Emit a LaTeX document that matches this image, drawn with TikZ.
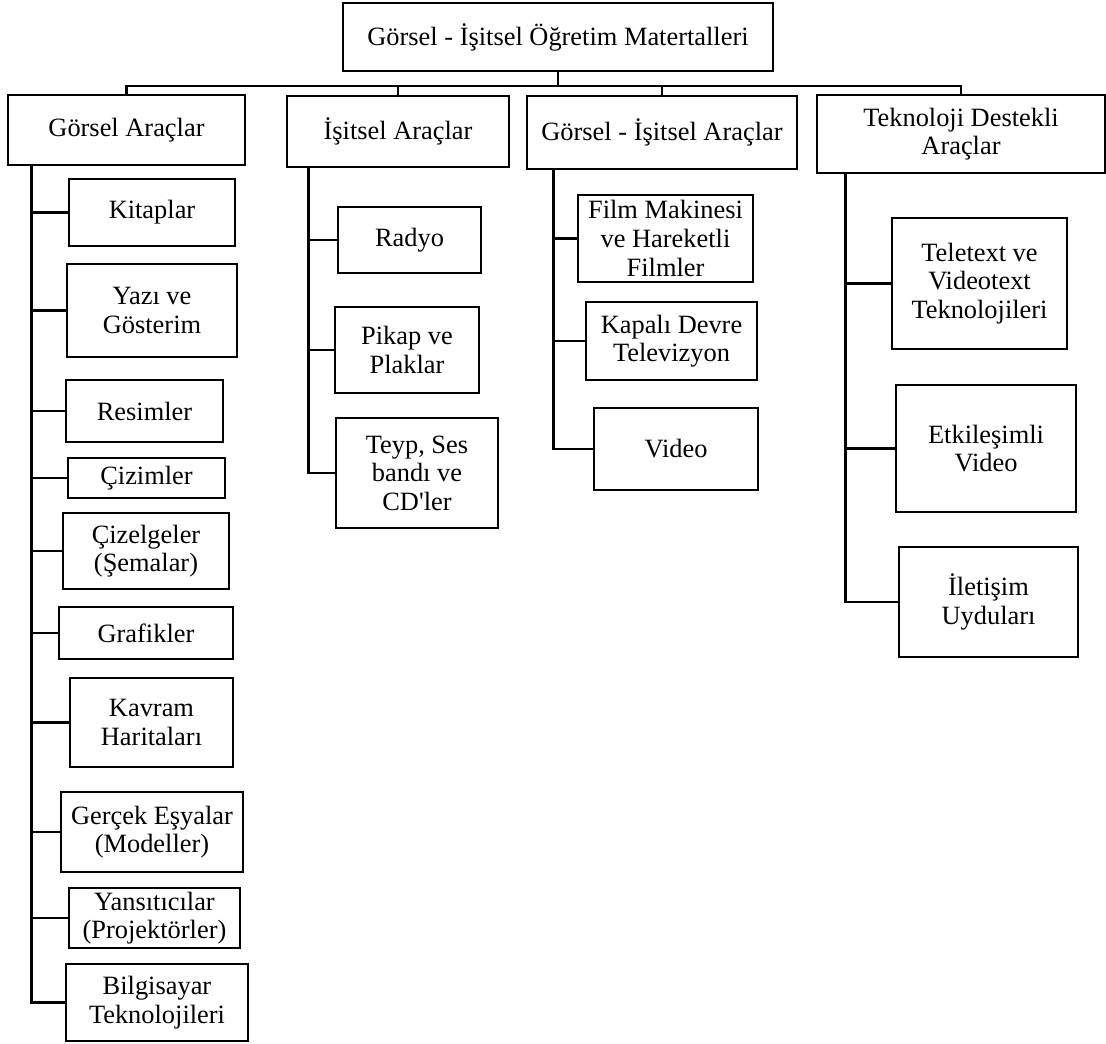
\documentclass[tikz,border=0pt]{standalone}
\usepackage{fontspec}
\setmainfont{Liberation Serif}
\begin{document}
\begin{tikzpicture}[x=0.5pt,y=-0.5pt,
  box/.style={draw, line width=1.3pt, inner sep=0pt, align=center,
    font=\fontsize{13.2pt}{14.3pt}\selectfont},
  sz/.style 2 args={minimum width=#1*0.5pt, minimum height=#2*0.5pt},
  conn/.style={line width=1.3pt}]
\useasboundingbox (0,0) rectangle (1106,1043);

% root
\node[box, sz={430}{68}] (top) at (558,37) {Görsel - İşitsel Öğretim Matertalleri};

% level 1
\node[box, sz={237}{70}] (ga)  at (126.5,130)  {Görsel Araçlar};
\node[box, sz={222}{71}] (ia)  at (398,131.5)  {İşitsel Araçlar};
\node[box, sz={270}{73}] (gia) at (662,132.5)  {Görsel - İşitsel Araçlar};
\node[box, sz={288}{78}] (tda) at (961,134)    {Teknoloji Destekli\\Araçlar};

% column 1
\node[box, sz={166}{67}] (kit)   at (152,212.5)  {Kitaplar};
\node[box, sz={170}{93}] (yazi)  at (152,310.5)  {Yazı ve\\Gösterim};
\node[box, sz={157}{62}] (res)   at (144.5,411)  {Resimler};
\node[box, sz={157}{40}] (ciz)   at (146.5,478)  {Çizimler};
\node[box, sz={166}{76}] (cizel) at (146,551)    {Çizelgeler\\(Şemalar)};
\node[box, sz={174}{52}] (graf)  at (146,633)    {Grafikler};
\node[box, sz={163}{89}] (kav)   at (151.5,722.5){Kavram\\Haritaları};
\node[box, sz={182}{80}] (ger)   at (152,832)    {Gerçek Eşyalar\\(Modeller)};
\node[box, sz={171}{60}] (yan)   at (154.5,918)  {Yansıtıcılar\\(Projektörler)};
\node[box, sz={182}{77}] (bil)   at (157,1002.5) {Bilgisayar\\Teknolojileri};

% column 2
\node[box, sz={143}{66}]  (rad)  at (409.5,240) {Radyo};
\node[box, sz={144}{86}]  (pik)  at (407,350)   {Pikap ve\\Plaklar};
\node[box, sz={162}{110}] (teyp) at (417,473)   {Teyp, Ses\\bandı ve\\CD\textquotesingle ler};

% column 3
\node[box, sz={175}{87}] (film) at (665.5,238.5) {Film Makinesi\\ve Hareketli\\Filmler};
\node[box, sz={171}{78}] (kap)  at (671.5,341)   {Kapalı Devre\\Televizyon};
\node[box, sz={164}{82}] (vid)  at (676,449)     {Video};

% column 4
\node[box, sz={175}{131}] (tel)  at (979.5,283.5) {Teletext ve\\Videotext\\Teknolojileri};
\node[box, sz={180}{127}] (etk)  at (986,448.5)   {Etkileşimli\\Video};
\node[box, sz={179}{110}] (ilet) at (988.5,602)   {İletişim\\Uyduları};

% top connectors
\coordinate (bus) at (0,86);
\draw[conn] (top.south) -- (top.south |- bus);
\draw[conn] (ga.north) -- (ga.north |- bus) -- (tda.north |- bus) -- (tda.north);
\draw[conn] (ia.north) -- (ia.north |- bus);
\draw[conn] (gia.north) -- (gia.north |- bus);

% spines
\coordinate (gaS)  at ([xshift=12.5pt]ga.south west);
\coordinate (iaS)  at ([xshift=11.5pt]ia.south west);
\coordinate (giaS) at ([xshift=14pt]gia.south west);
\coordinate (tdaS) at ([xshift=15pt]tda.south west);

\foreach \c in {kit,yazi,res,ciz,cizel,graf,kav,ger,yan,bil}
  \draw[conn] (gaS) |- (\c.west);
\foreach \c in {rad,pik,teyp}
  \draw[conn] (iaS) |- (\c.west);
\foreach \c in {film,kap,vid}
  \draw[conn] (giaS) |- (\c.west);
\foreach \c in {tel,etk,ilet}
  \draw[conn] (tdaS) |- (\c.west);
\end{tikzpicture}
\end{document}
